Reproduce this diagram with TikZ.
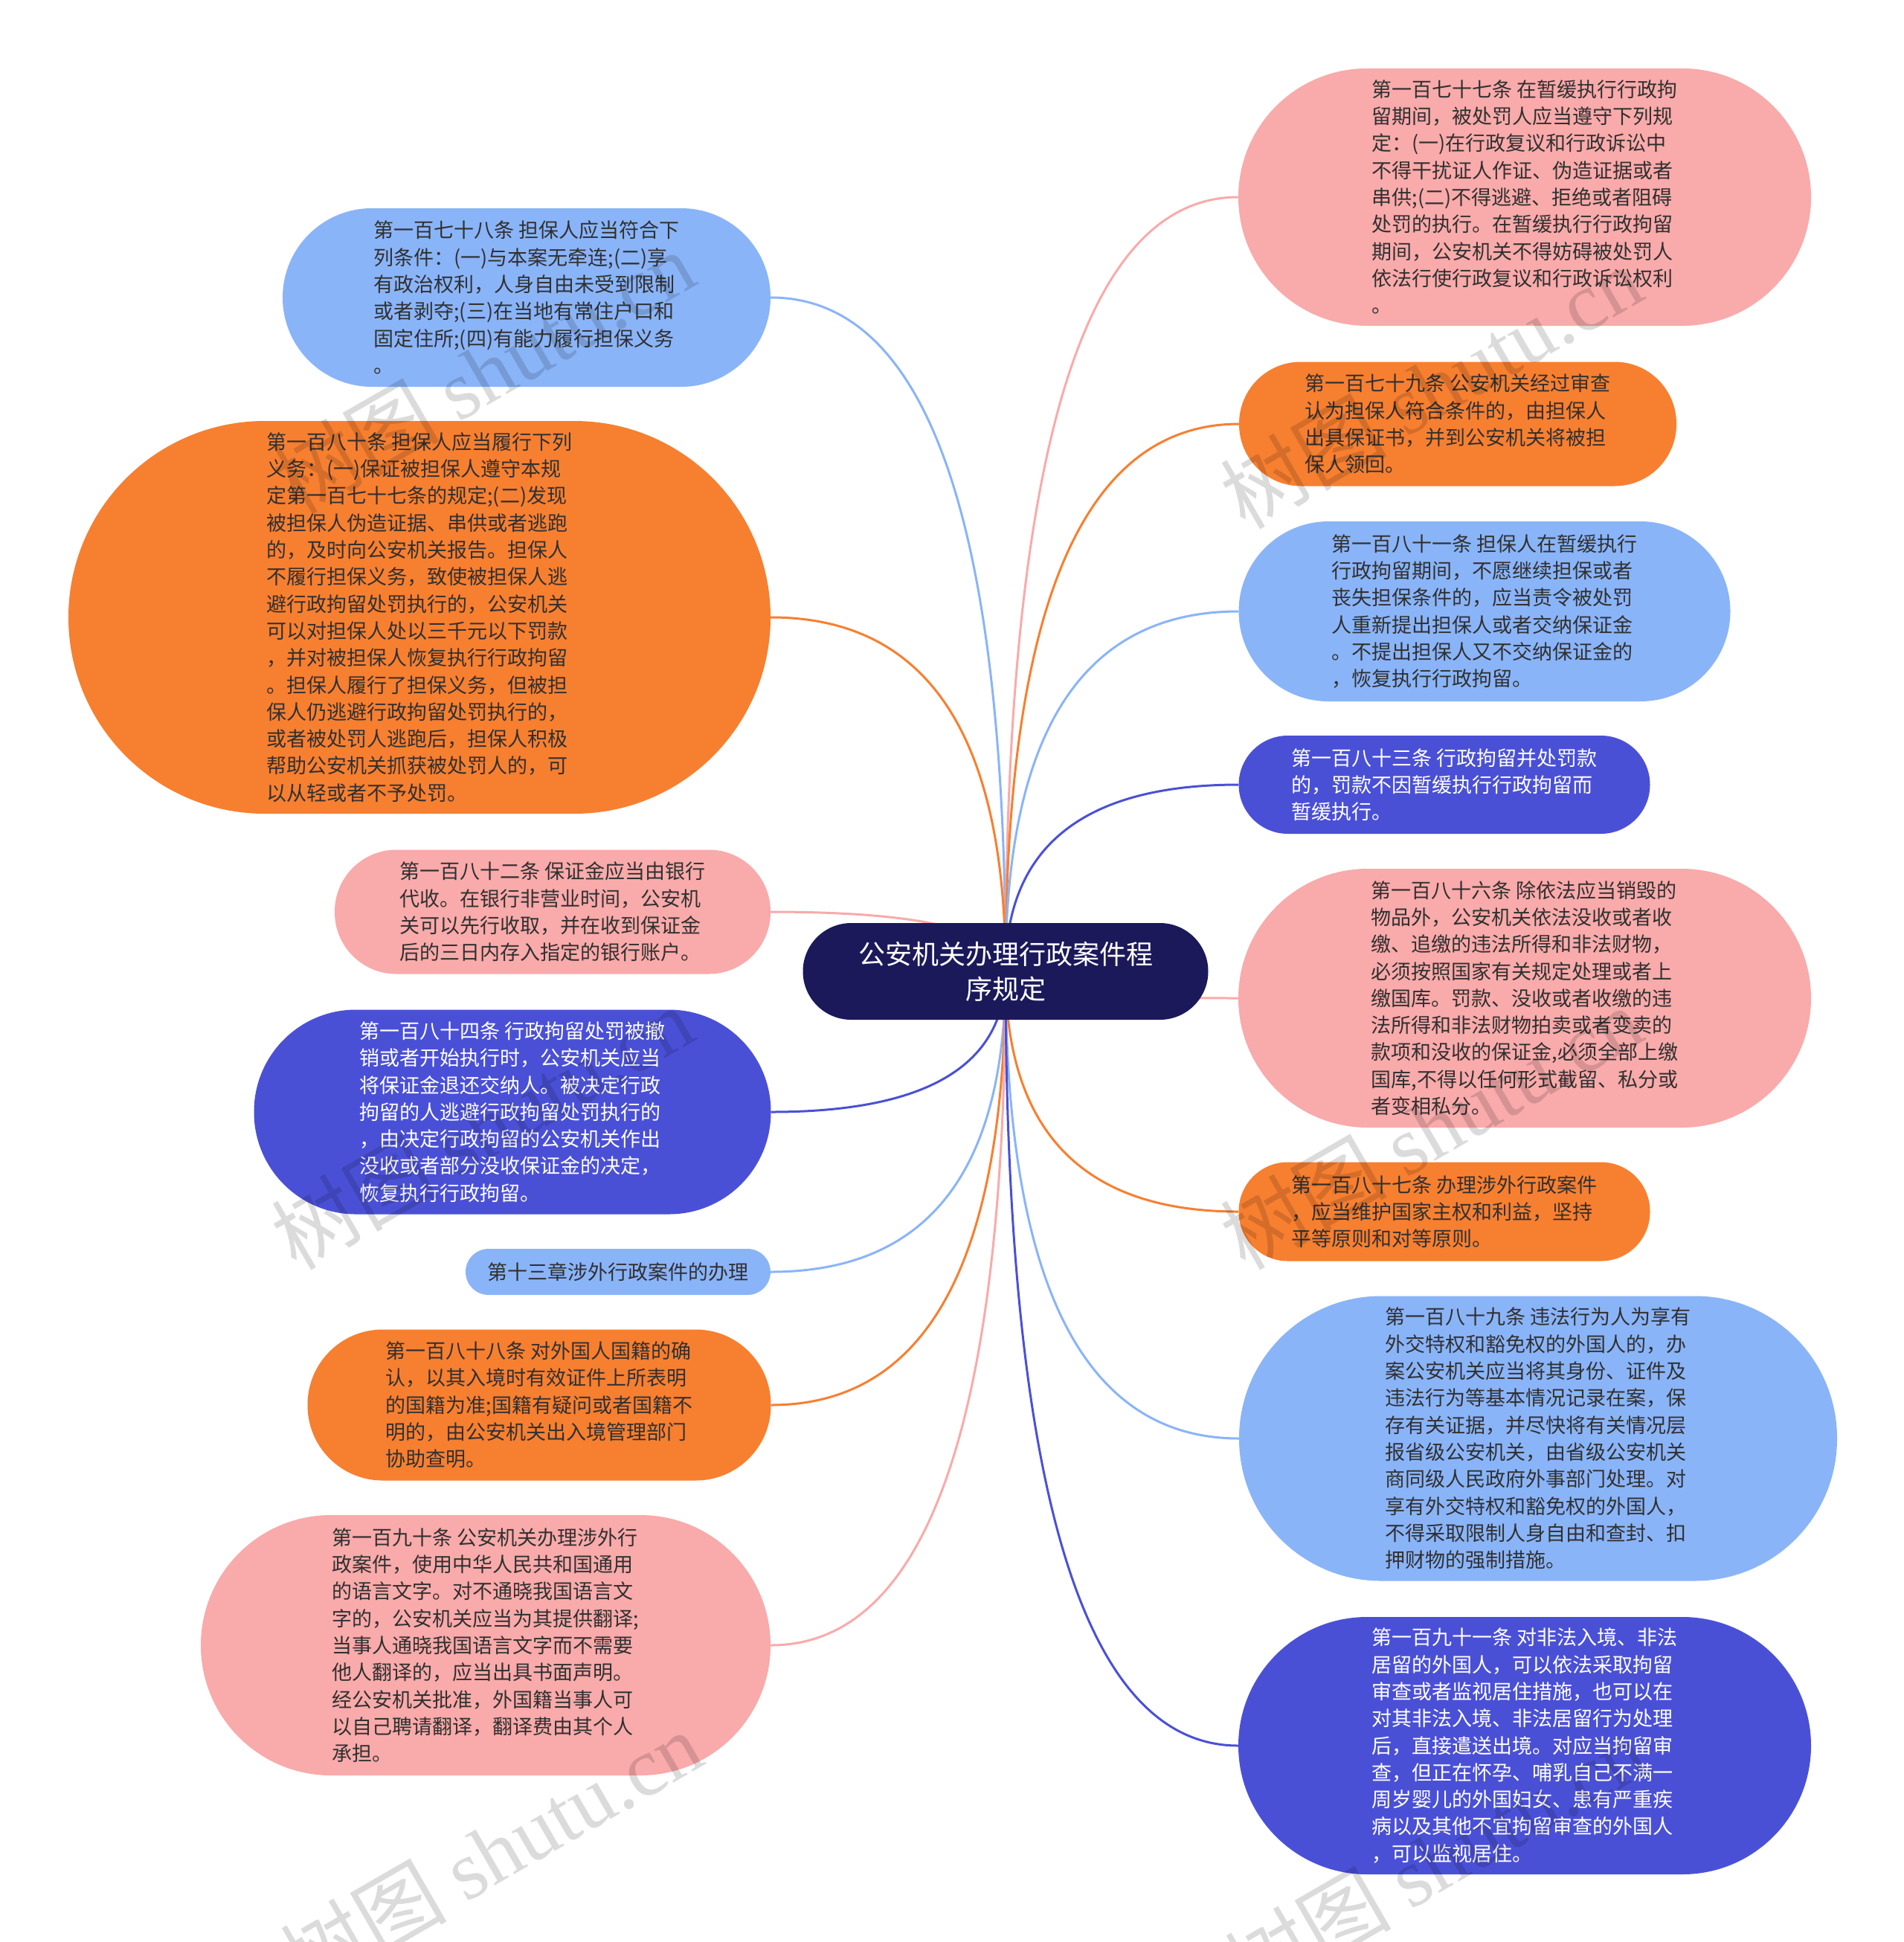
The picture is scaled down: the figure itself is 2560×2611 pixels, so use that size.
\documentclass[tikz,border=0pt]{standalone}
\usepackage{fontspec}
\setmainfont{Noto Sans CJK SC}
\newfontfamily\wmserif{Liberation Serif}
\usetikzlibrary{calc}
\pgfdeclarelayer{background}
\pgfdeclarelayer{foreground}
\pgfsetlayers{background,main,foreground}
\definecolor{cLB}{HTML}{8AB4F8}
\definecolor{cOR}{HTML}{F77F30}
\definecolor{cPK}{HTML}{F9AAAA}
\definecolor{cIN}{HTML}{4A50D6}
\definecolor{cNV}{HTML}{1B195A}
\definecolor{cTX}{HTML}{303030}
\tikzset{
  box/.style={rounded corners=#1, align=left, inner sep=0pt, font=\fontsize{27}{36.3}\selectfont},
  dk/.style={text=cTX},
  wt/.style={text=white},
  link/.style={line width=3pt},
  wm/.style={rotate=30, text=black, text opacity=0.14, inner sep=0pt, font=\fontsize{112}{112}\selectfont},
}
\begin{document}
\begin{tikzpicture}[x=1pt,y=-1pt]
\useasboundingbox (0,0) rectangle (2560,2611);
% centre
\node[box=65pt, fill=cNV, wt, align=center, font=\fontsize{36}{47}\selectfont, minimum width=545pt, minimum height=130pt] (c) at (1352,1306) {公安机关办理行政案件程\\序规定};
% left
\node[box=120pt, fill=cLB, dk, minimum width=656pt, minimum height=240pt] (L1) at (708,400) {第一百七十八条 担保人应当符合下\\列条件：(一)与本案无牵连;(二)享\\有政治权利，人身自由未受到限制\\或者剥夺;(三)在当地有常住户口和\\固定住所;(四)有能力履行担保义务\\。};
\node[box=264pt, fill=cOR, dk, minimum width=944pt, minimum height=528pt] (L2) at (564,830) {第一百八十条 担保人应当履行下列\\义务：(一)保证被担保人遵守本规\\定第一百七十七条的规定;(二)发现\\被担保人伪造证据、串供或者逃跑\\的，及时向公安机关报告。担保人\\不履行担保义务，致使被担保人逃\\避行政拘留处罚执行的，公安机关\\可以对担保人处以三千元以下罚款\\，并对被担保人恢复执行行政拘留\\。担保人履行了担保义务，但被担\\保人仍逃避行政拘留处罚执行的，\\或者被处罚人逃跑后，担保人积极\\帮助公安机关抓获被处罚人的，可\\以从轻或者不予处罚。};
\node[box=83pt, fill=cPK, dk, minimum width=586pt, minimum height=167pt] (L3) at (743,1226) {第一百八十二条 保证金应当由银行\\代收。在银行非营业时间，公安机\\关可以先行收取，并在收到保证金\\后的三日内存入指定的银行账户。};
\node[box=137pt, fill=cIN, wt, minimum width=695pt, minimum height=275pt] (L4) at (689,1495) {第一百八十四条 行政拘留处罚被撤\\销或者开始执行时，公安机关应当\\将保证金退还交纳人。被决定行政\\拘留的人逃避行政拘留处罚执行的\\，由决定行政拘留的公安机关作出\\没收或者部分没收保证金的决定，\\恢复执行行政拘留。};
\node[box=31pt, fill=cLB, dk, minimum width=410pt, minimum height=62pt] (L5) at (831,1710) {第十三章涉外行政案件的办理};
\node[box=101pt, fill=cOR, dk, minimum width=623pt, minimum height=203pt] (L6) at (725,1889) {第一百八十八条 对外国人国籍的确\\认，以其入境时有效证件上所表明\\的国籍为准;国籍有疑问或者国籍不\\明的，由公安机关出入境管理部门\\协助查明。};
\node[box=175pt, fill=cPK, dk, minimum width=766pt, minimum height=350pt] (L7) at (653,2212) {第一百九十条 公安机关办理涉外行\\政案件，使用中华人民共和国通用\\的语言文字。对不通晓我国语言文\\字的，公安机关应当为其提供翻译;\\当事人通晓我国语言文字而不需要\\他人翻译的，应当出具书面声明。\\经公安机关批准，外国籍当事人可\\以自己聘请翻译，翻译费由其个人\\承担。};
% right
\node[box=173pt, fill=cPK, dk, minimum width=770pt, minimum height=346pt] (R1) at (2050,265) {第一百七十七条 在暂缓执行行政拘\\留期间，被处罚人应当遵守下列规\\定：(一)在行政复议和行政诉讼中\\不得干扰证人作证、伪造证据或者\\串供;(二)不得逃避、拒绝或者阻碍\\处罚的执行。在暂缓执行行政拘留\\期间，公安机关不得妨碍被处罚人\\依法行使行政复议和行政诉讼权利\\。};
\node[box=83pt, fill=cOR, dk, minimum width=588pt, minimum height=167pt] (R2) at (1960,570) {第一百七十九条 公安机关经过审查\\认为担保人符合条件的，由担保人\\出具保证书，并到公安机关将被担\\保人领回。};
\node[box=121pt, fill=cLB, dk, minimum width=661pt, minimum height=242pt] (R3) at (1996,822) {第一百八十一条 担保人在暂缓执行\\行政拘留期间，不愿继续担保或者\\丧失担保条件的，应当责令被处罚\\人重新提出担保人或者交纳保证金\\。不提出担保人又不交纳保证金的\\，恢复执行行政拘留。};
\node[box=66pt, fill=cIN, wt, minimum width=553pt, minimum height=132pt] (R4) at (1942,1055) {第一百八十三条 行政拘留并处罚款\\的，罚款不因暂缓执行行政拘留而\\暂缓执行。};
\node[box=174pt, fill=cPK, dk, minimum width=770pt, minimum height=348pt] (R5) at (2050,1342) {第一百八十六条 除依法应当销毁的\\物品外，公安机关依法没收或者收\\缴、追缴的违法所得和非法财物，\\必须按照国家有关规定处理或者上\\缴国库。罚款、没收或者收缴的违\\法所得和非法财物拍卖或者变卖的\\款项和没收的保证金,必须全部上缴\\国库,不得以任何形式截留、私分或\\者变相私分。};
\node[box=66pt, fill=cOR, dk, minimum width=553pt, minimum height=133pt] (R6) at (1942,1629) {第一百八十七条 办理涉外行政案件\\，应当维护国家主权和利益，坚持\\平等原则和对等原则。};
\node[box=191pt, fill=cLB, dk, minimum width=804pt, minimum height=383pt] (R7) at (2068,1934) {第一百八十九条 违法行为人为享有\\外交特权和豁免权的外国人的，办\\案公安机关应当将其身份、证件及\\违法行为等基本情况记录在案，保\\存有关证据，并尽快将有关情况层\\报省级公安机关，由省级公安机关\\商同级人民政府外事部门处理。对\\享有外交特权和豁免权的外国人，\\不得采取限制人身自由和查封、扣\\押财物的强制措施。};
\node[box=173pt, fill=cIN, wt, minimum width=770pt, minimum height=346pt] (R8) at (2050,2347) {第一百九十一条 对非法入境、非法\\居留的外国人，可以依法采取拘留\\审查或者监视居住措施，也可以在\\对其非法入境、非法居留行为处理\\后，直接遣送出境。对应当拘留审\\查，但正在怀孕、哺乳自己不满一\\周岁婴儿的外国妇女、患有严重疾\\病以及其他不宜拘留审查的外国人\\，可以监视居住。};
% connectors
\begin{pgfonlayer}{background}
\fill[white] (0,0) rectangle (2560,2611);
\foreach \n/\a/\col in {L1/east/cLB, L2/east/cOR, L3/east/cPK, L4/east/cIN, L5/east/cLB, L6/east/cOR, L7/east/cPK, R1/west/cPK, R2/west/cOR, R3/west/cLB, R4/west/cIN, R5/west/cPK, R6/west/cOR, R7/west/cLB, R8/west/cIN}{
  \draw[link, draw=\col] (c.center) .. controls ($(c.center)!0.667!(c.center|-\n.\a)$) and ($(\n.\a)!0.667!(c.center|-\n.\a)$) .. (\n.\a);
}
\end{pgfonlayer}
% watermarks
\begin{pgfonlayer}{foreground}
\node[wm] (wm1) at (650,500) {树图 {\wmserif shutu.cn}};
\node[wm] (wm2) at (1924,520) {树图 {\wmserif shutu.cn}};
\node[wm] (wm3) at (648,1516) {树图 {\wmserif shutu.cn}};
\node[wm] (wm4) at (1924,1516) {树图 {\wmserif shutu.cn}};
\node[wm] (wm5) at (660,2490) {树图 {\wmserif shutu.cn}};
\node[wm] (wm6) at (1930,2500) {树图 {\wmserif shutu.cn}};
\end{pgfonlayer}
\end{tikzpicture}
\end{document}
